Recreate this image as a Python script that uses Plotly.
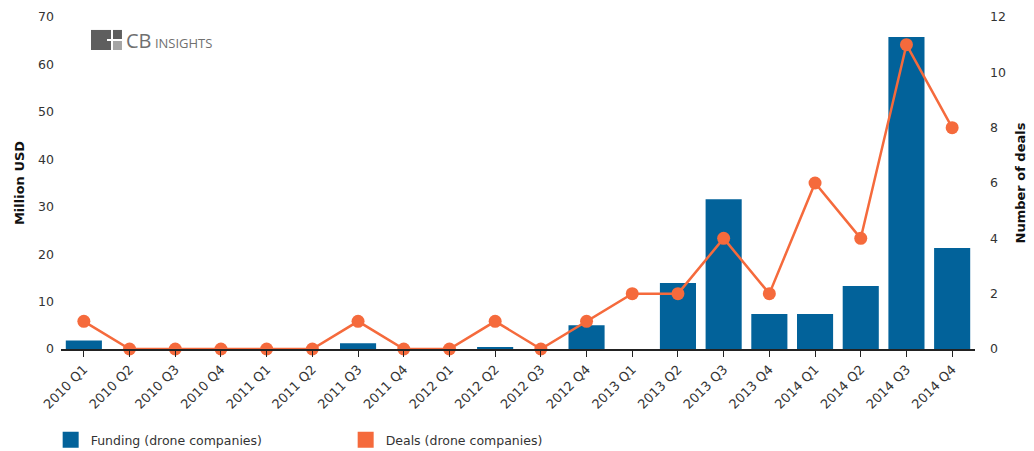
import plotly.graph_objects as go

quarters = ["2010 Q1", "2010 Q2", "2010 Q3", "2010 Q4",
            "2011 Q1", "2011 Q2", "2011 Q3", "2011 Q4",
            "2012 Q1", "2012 Q2", "2012 Q3", "2012 Q4",
            "2013 Q1", "2013 Q2", "2013 Q3", "2013 Q4",
            "2014 Q1", "2014 Q2", "2014 Q3", "2014 Q4"]
funding = [1.8, 0, 0, 0, 0, 0, 1.2, 0, 0, 0.3, 0, 5.0,
           0, 13.9, 31.6, 7.4, 7.4, 13.3, 65.8, 21.3]
deals = [1, 0, 0, 0, 0, 0, 1, 0, 0, 1, 0, 1, 2, 2, 4, 2, 6, 4, 11, 8]
series_names = ["Funding (drone companies)", "Deals (drone companies)"]

BLUE = "#02629a"
ORANGE = "#f56a3c"
FONT = "DejaVu Sans"

fig = go.Figure()
fig.add_trace(go.Bar(x=quarters, y=funding, name=series_names[0], showlegend=False,
                     marker=dict(color=BLUE, line=dict(width=0)), yaxis="y"))
fig.add_trace(go.Scatter(x=quarters, y=deals, name=series_names[1], showlegend=False,
                         mode="lines+markers", yaxis="y2", cliponaxis=False,
                         line=dict(color=ORANGE, width=2.5),
                         marker=dict(color=ORANGE, size=13)))
# legend entries with square swatches (no visible points)
for nm, col in zip(series_names, [BLUE, ORANGE]):
    fig.add_trace(go.Scatter(x=[quarters[0]], y=[None], mode="markers", name=nm,
                             marker=dict(symbol="square", size=18, color=col),
                             showlegend=True, hoverinfo="skip"))

fig.update_layout(
    template="none",
    width=1034, height=451,
    margin=dict(l=61, r=59, t=17, b=102, autoexpand=False),
    paper_bgcolor="white", plot_bgcolor="white",
    font=dict(family=FONT, size=12, color="#333333"),
    bargap=0.21,
    showlegend=True,
    legend=dict(orientation="h", xref="container", yref="container",
                x=0.049, y=0.024, xanchor="left", yanchor="middle",
                font=dict(family=FONT, size=12.5, color="#333333"),
                itemwidth=30, entrywidth=250, entrywidthmode="pixels",
                traceorder="normal", bgcolor="rgba(0,0,0,0)"),
    xaxis=dict(type="category", categoryorder="array", categoryarray=quarters,
               range=[-0.5, len(quarters) - 0.5],
               tickangle=-45, showline=True, linecolor="#222222", linewidth=1.5,
               ticks="outside", ticklen=6, tickcolor="#222222", showgrid=False,
               automargin=False, zeroline=False,
               tickfont=dict(family=FONT, size=13, color="#333333")),
    yaxis=dict(range=[0, 70], dtick=10, showgrid=False, zeroline=False,
               showline=False, ticks="", ticklabelstandoff=6, automargin=False,
               tickfont=dict(family=FONT, size=12.5, color="#333333"),
               title=dict(text="<b>Million USD</b>", font=dict(family=FONT, size=13, color="#111111"), standoff=10)),
    yaxis2=dict(range=[0, 12], dtick=2, overlaying="y", side="right", showgrid=False,
                zeroline=False, showline=False, ticks="", ticklabelstandoff=14, automargin=False,
                tickfont=dict(family=FONT, size=12.5, color="#333333"),
                title=dict(text="<b>Number of deals</b>", font=dict(family=FONT, size=13, color="#111111"), standoff=10)),
)

# CB Insights logo (decorative)
LOGO_DARK = "#5e5e5e"
fig.add_shape(type="rect", xref="paper", yref="paper", x0=0.0328, x1=0.0547, y0=0.9006, y1=0.961,
              fillcolor=LOGO_DARK, line=dict(width=0), layer="above")
fig.add_shape(type="rect", xref="paper", yref="paper", x0=0.0569, x1=0.0667, y0=0.9337, y1=0.961,
              fillcolor=LOGO_DARK, line=dict(width=0), layer="above")
fig.add_shape(type="rect", xref="paper", yref="paper", x0=0.0569, x1=0.0667, y0=0.9006, y1=0.9277,
              fillcolor="#a5a5a5", line=dict(width=0), layer="above")
fig.add_shape(type="rect", xref="paper", yref="paper", x0=0.0503, x1=0.0547, y0=0.9277, y1=0.9337,
              fillcolor="white", line=dict(width=0), layer="above")
fig.add_annotation(xref="paper", yref="paper", x=0.069, y=0.930, xanchor="left", yanchor="middle",
                   text="<span style='font-size:20px'>CB</span> INSIGHTS", showarrow=False,
                   font=dict(family="Open Sans", size=13, color="#707070"))

fig.write_html("out.html", config={"displayModeBar": False},
               post_script="document.body.style.margin='0';document.body.style.overflow='hidden';")
